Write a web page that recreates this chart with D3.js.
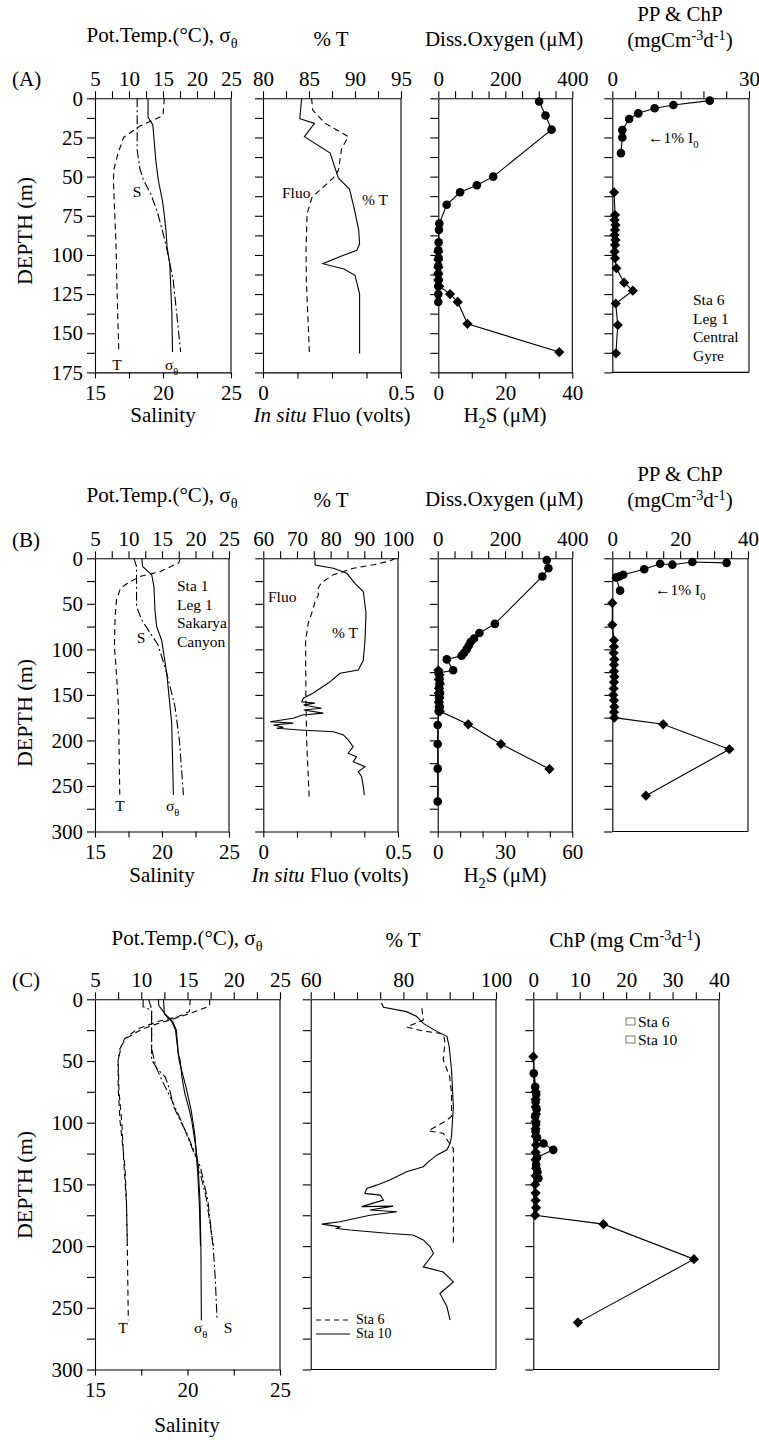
<!DOCTYPE html>
<html><head><meta charset="utf-8">
<script src="https://cdn.jsdelivr.net/npm/d3@7/dist/d3.min.js"></script>
<style>
body{margin:0;background:#fff}
svg text{font-family:'Liberation Serif','Times New Roman',serif;fill:#000}
</style>
</head><body><div id="chart"></div>
<script>
// ---------- data (depth in m) ----------
// (A) Sta 6, Leg 1, Central Gyre
var aTempDepth = [0, 11, 18, 25, 35, 45, 52, 73, 95, 116, 162];
var aTemp      = [15.2, 15.0, 11.5, 9.2, 8.4, 7.8, 7.7, 7.9, 8.1, 8.2, 8.5];
var aSigDepth  = [0, 12, 17, 27, 40, 52, 65, 73, 85, 95, 106, 137, 162];
var aSig       = [12.8, 12.8, 13.5, 13.7, 13.95, 14.3, 14.9, 15.15, 15.45, 15.6, 16.0, 16.3, 16.4];
var aSalDepth  = [0, 33, 45, 52, 61, 73, 86, 97, 116, 137, 162];
var aSal       = [18.1, 18.1, 18.3, 18.55, 19.1, 19.6, 20.0, 20.3, 20.75, 21.0, 21.3];
var aTransDepth = [0, 13, 16, 24.5, 35, 51, 58, 70, 84, 93, 97, 101, 105.6, 109, 113, 125, 163];
var aTrans      = [84.2, 84.0, 85.6, 84.5, 87.3, 88.2, 89.4, 89.9, 90.4, 90.5, 90.2, 88.4, 86.5, 88.8, 90.0, 90.5, 90.5];
var aFluoDepth = [0, 7.5, 16, 24.5, 32, 46, 51, 63, 73.5, 95, 116, 162];
var aFluo      = [0.176, 0.18, 0.225, 0.309, 0.285, 0.273, 0.254, 0.178, 0.16, 0.156, 0.157, 0.168];
var aOxyDepth  = [2, 11, 20, 50, 55.5, 60, 68, 80, 84, 92, 97, 102, 107, 112, 116, 120, 125, 130];
var aOxy       = [301, 320, 338, 164, 115, 65, 25, 3, 2, 1, 0, 1, 0, 0, 1, 0, 0, 0];
var aH2sDepth  = [98, 103, 108, 112, 116, 120, 125, 130, 144, 162];
var aH2s       = [0, 0, 0, 0, 0, 0.3, 3.5, 5.8, 8.7, 36.1];
var aPpDepth   = [1.5, 4.3, 6.4, 9.6, 13.2, 20.3, 25, 35];
var aPp        = [21.4, 13.4, 9.3, 5.7, 3.7, 2.2, 2.2, 1.9];
var aChpDepth  = [60, 74.5, 77.7, 80.9, 84.1, 87.3, 90.4, 93.6, 97.9, 102.1, 108.5, 117.7, 122.8, 131, 144.8, 162.8];
var aChp       = [0.4, 0.6, 0.5, 0.7, 0.6, 0.5, 0.7, 0.6, 0.5, 0.6, 0.9, 2.6, 4.5, 0.75, 1.2, 0.8];

// (B) Sta 1, Leg 1, Sakarya Canyon
var bTempDepth = [0, 5, 14.7, 20, 29, 35, 46, 64, 97, 126, 163, 262];
var bTemp      = [17.7, 17.5, 14.7, 11.7, 9.5, 8.7, 8.2, 8.0, 7.9, 8.2, 8.5, 8.7];
var bSigDepth  = [0, 9, 18, 31, 57, 75, 90, 126, 181, 260];
var bSig       = [12.0, 12.1, 13.46, 13.8, 13.95, 14.2, 14.95, 15.7, 16.45, 16.7];
var bSalDepth  = [0, 9, 30, 53, 68, 86, 95, 126, 163, 200, 260];
var bSal       = [17.9, 18.1, 18.1, 18.1, 18.5, 19.3, 19.7, 20.35, 20.97, 21.3, 21.6];
var bTransDepth = [0, 7.4, 11, 16.5, 27.5, 36.6, 60, 90, 112, 122.6, 126.3, 137, 148, 153.7, 157.5, 159, 161, 164.7, 166.6, 170, 172, 175.7, 179.4, 181, 183, 185.6, 186.7, 188.5, 190.4, 194, 199.5, 206.9, 214, 217.8, 223.3, 228.8, 234.3, 239.8, 250.8, 260];
var bTrans      = [75.35, 75.4, 80.8, 84.8, 87.2, 89.7, 90.5, 90.2, 89.7, 88.2, 82.8, 79.3, 74.85, 71.9, 71.4, 75.3, 72.0, 77.3, 72.0, 77.8, 71.6, 68.9, 62.0, 68.9, 63.0, 66.0, 64.0, 70.9, 80.8, 83.8, 85.2, 86.7, 85.2, 87.7, 86.7, 90.2, 88.2, 89.2, 89.7, 90.0];
var bFluoDepth = [0, 3, 7, 11, 18, 27, 35, 40, 48, 60, 71, 90, 150, 200, 262];
var bFluo      = [0.49, 0.47, 0.41, 0.334, 0.26, 0.215, 0.2, 0.205, 0.192, 0.18, 0.167, 0.157, 0.158, 0.161, 0.17];
var bOxyDepth  = [2, 11, 20, 72, 82, 88, 92, 96, 100, 104, 107, 111, 123, 126, 132, 137, 142, 148, 153, 158, 163, 168, 183, 204, 231, 267];
var bOxy       = [324, 329, 311, 170, 124, 108, 98, 92, 86, 78, 71, 27, 46, 3, 5, 6, 4, 7, 5, 4, 6, 3, 0, 0, 0, 0];
var bH2sDepth  = [123, 128, 133, 138, 143, 148, 153, 158, 163, 168, 182.3, 204, 231.4];
var bH2s       = [0.3, 0.8, 0.5, 1.0, 0.6, 0.4, 0.8, 0.5, 0.7, 1.0, 13.6, 28.2, 49.8];
var bPpDepth   = [5, 4, 7, 6, 12, 18, 20, 21, 35.5];
var bPp        = [33.7, 23.6, 17.7, 14.1, 9.4, 3.2, 2.1, 1.1, 2.3];
var bChpDepth  = [49, 73, 90, 97, 104, 111, 117, 124, 130, 136, 143, 150, 156, 163, 169, 175, 182.3, 209.7, 260.7];
var bChp       = [0, 0, 0.5, 0.5, 0.4, 0.6, 0.5, 0.5, 0.6, 0.5, 0.4, 0.3, 0.5, 0.6, 0.5, 0.6, 15.0, 34.5, 9.9];

// (C) Sta 6 vs Sta 10
var cTemp10Depth = [0, 5.4, 11.4, 16.8, 20.8, 24.9, 31.6, 37, 49, 71, 98, 136, 163, 203, 260];
var cTemp10      = [17.4, 17.4, 15.3, 13.1, 11.3, 9.9, 8.4, 7.9, 7.5, 7.5, 7.7, 8.24, 8.4, 8.5, 8.6];
var cTemp6Depth  = [0, 10, 14, 18, 24, 32, 40, 50, 75, 100, 130, 165, 200];
var cTemp6       = [15.3, 15.2, 14.0, 11.8, 9.6, 8.2, 7.7, 7.5, 7.6, 7.9, 8.1, 8.4, 8.5];
var cSig10Depth  = [0, 5, 12, 18, 25, 44, 49, 63, 76, 87, 98, 120, 136, 163, 203, 260];
var cSig10       = [11.85, 11.9, 12.6, 13.4, 13.8, 14.0, 14.2, 14.4, 14.7, 15.1, 15.45, 15.9, 16.15, 16.35, 16.45, 16.5];
var cSig6Depth   = [0, 12, 18, 25, 50, 70, 90, 110, 140, 170, 200];
var cSig6        = [12.4, 12.5, 13.3, 13.7, 14.1, 14.8, 15.4, 15.8, 16.1, 16.3, 16.4];
var cSal10Depth  = [0, 6, 9, 49, 57, 63, 74, 87, 98, 108, 136, 163, 203, 226, 260];
var cSal10       = [17.6, 17.6, 18.06, 18.06, 18.4, 18.8, 19.05, 19.25, 19.6, 19.95, 20.7, 21.1, 21.4, 21.5, 21.6];
var cSal6Depth   = [0, 8, 40, 55, 65, 80, 100, 130, 160, 200];
var cSal6        = [17.9, 18.06, 18.06, 18.3, 18.6, 19.1, 19.7, 20.5, 21.0, 21.4];
var cTrans10Depth = [3, 6.5, 10, 14, 19.5, 26, 30, 38.4, 57.3, 87, 111, 116.8, 122, 126.3, 131.7, 135.7, 139.8, 146.5, 150.6, 153.3, 157.3, 158.7, 162.7, 168, 167.6, 170.8, 172.2, 175, 180.3, 182.2, 184.4, 185.7, 187, 189.8, 191, 195, 200.6, 206, 216.8, 221, 229, 238.4, 249, 260];
var cTrans10      = [75.3, 75.7, 80.7, 82.9, 84.3, 87.2, 89.4, 89.9, 90.4, 90.8, 90.4, 90.1, 89.4, 87.2, 85.4, 84.3, 80.7, 77.1, 74.2, 72.1, 71.7, 75, 75.7, 71, 77.8, 72.8, 78.6, 72.8, 66.3, 62.4, 66.3, 65.6, 68.5, 77.1, 82.1, 84.3, 85.8, 86.5, 84.3, 88.6, 90.8, 87.9, 89.4, 90.1];
var cTrans6Depth = [7.3, 16.8, 22.5, 25.5, 28, 35, 49, 62.7, 76, 95, 99, 106.5, 108.6, 115.4, 121, 160, 199.4];
var cTrans6      = [84, 84.3, 80.7, 84, 88.6, 89, 88.6, 90, 90.4, 90.4, 89, 85.4, 88.6, 89.7, 90.8, 90.8, 90.8];
var cChp6Depth   = [60, 71, 77, 83, 89, 95, 101, 107, 112, 116.8, 122, 128, 134, 140, 145];
var cChp6        = [0.1, 0.4, 0.6, 0.5, 0.7, 0.4, 0.6, 0.5, 0.8, 2.2, 4.3, 0.8, 0.6, 0.9, 1.1];
var cChp10Depth  = [46.5, 75, 81, 87, 93, 99, 105, 111, 118, 124, 130, 137, 143, 150, 157, 163, 169, 175, 182.2, 210.6, 262];
var cChp10       = [0, 0.5, 0.5, 0.5, 0.6, 0.5, 0.5, 0.5, 0.6, 0.5, 0.5, 0.6, 0.5, 0.4, 0.5, 0.5, 0.6, 0.4, 15.1, 34.6, 9.6];

// tick label lists
var tempLabels = [5, 10, 15, 20, 25];
var salLabels = [15, 20, 25];
var oxyLabels = [0, 200, 400];
var fluoLabels = [0, 0.5];

// ---------- drawing ----------
var FS = 21;
var svg = d3.select("#chart").append("svg")
    .attr("width", 759)
    .attr("height", 1440);
svg.append("rect").attr("width", 759).attr("height", 1440).attr("fill", "#fff");

function styleAxis(g) {
    g.attr("font-family", null).attr("font-size", FS);
    g.selectAll("path,line").attr("stroke", "#000").attr("stroke-width", 1.1);
    g.selectAll("text").attr("fill", "#000");
}

function fmt(labels) {
    return function(d) { return labels.indexOf(d) >= 0 ? d : ""; };
}

// text with sub/superscripts: parts = [[text, "sub"|"sup"|null, italic]]
function rich(x, y, parts, size, anchor) {
    var t = svg.append("text").attr("x", x).attr("y", y)
        .attr("font-size", size).attr("text-anchor", anchor || "middle");
    var shift = 0;
    parts.forEach(function(p) {
        var target = p[1] === "sub" ? size * 0.3 : p[1] === "sup" ? -size * 0.32 : 0;
        var s = t.append("tspan").text(p[0]).attr("dy", target - shift);
        if (p[1]) s.attr("font-size", size * 0.68);
        if (p[2]) s.attr("font-style", "italic");
        shift = target;
    });
    return t;
}

function panel(row, x0, x1, o) {
    var y = d3.scaleLinear().domain([0, row.maxD]).range([row.top, row.bottom]);
    var xt = d3.scaleLinear().domain(o.top.domain).range([x0, x1]);

    svg.append("g")
        .attr("transform", "translate(" + x0 + ",0)")
        .call(d3.axisLeft(y)
            .tickValues(d3.range(0, row.maxD + 0.01, row.tickStep))
            .tickSize(8).tickPadding(4).tickSizeOuter(0)
            .tickFormat(function(d) { return o.depthLabels && d % row.labelStep === 0 ? d : ""; }))
        .call(styleAxis);

    svg.append("g")
        .attr("transform", "translate(0," + row.top + ")")
        .call(d3.axisTop(xt)
            .tickValues(d3.range(o.top.domain[0], o.top.domain[1] + 1e-6, o.top.step))
            .tickSize(7).tickPadding(5).tickSizeOuter(0)
            .tickFormat(fmt(o.top.labels)))
        .call(styleAxis);

    var xb = null;
    if (o.bottom) {
        xb = d3.scaleLinear().domain(o.bottom.domain).range([x0, x1]);
        svg.append("g")
            .attr("transform", "translate(0," + row.bottom + ")")
            .call(d3.axisBottom(xb)
                .tickValues(d3.range(o.bottom.domain[0], o.bottom.domain[1] + 1e-6, o.bottom.step))
                .tickSize(6).tickPadding(7).tickSizeOuter(0)
                .tickFormat(fmt(o.bottom.labels)))
            .call(styleAxis);
    } else {
        svg.append("line").attr("x1", x0).attr("x2", x1).attr("y1", row.bottom).attr("y2", row.bottom)
            .attr("stroke", "#000").attr("stroke-width", 1.1);
    }
    // right border
    svg.append("line").attr("x1", x1).attr("x2", x1).attr("y1", row.top).attr("y2", row.bottom)
        .attr("stroke", "#000").attr("stroke-width", 1.1);

    return {y: y, xt: xt, xb: xb};
}

function line(x, y, depths, vals, dash) {
    var pts = depths.map(function(d, i) { return [d, vals[i]]; });
    svg.append("path").datum(pts)
        .attr("fill", "none").attr("stroke", "#000").attr("stroke-width", 1.1)
        .attr("stroke-dasharray", dash || null)
        .attr("d", d3.line().x(function(p) { return x(p[1]); }).y(function(p) { return y(p[0]); }));
}

var diamond = d3.symbol().type(d3.symbolSquare).size(52);
function marks(x, y, depths, vals, shape) {
    var pts = depths.map(function(d, i) { return [d, vals[i]]; });
    if (shape === "circle") {
        svg.append("g").selectAll("circle").data(pts).enter().append("circle")
            .attr("cx", function(p) { return x(p[1]); })
            .attr("cy", function(p) { return y(p[0]); })
            .attr("r", 4.3).attr("fill", "#000");
    } else {
        svg.append("g").selectAll("path").data(pts).enter().append("path")
            .attr("d", diamond)
            .attr("transform", function(p) { return "translate(" + x(p[1]) + "," + y(p[0]) + ") rotate(45)"; })
            .attr("fill", "#000");
    }
}

var DASH_T = "6,4", DASH_S = "9,3,2,3";

var rowA = {top: 98.3, bottom: 372.4, maxD: 175, tickStep: 12.5, labelStep: 25};
var rowB = {top: 558.3, bottom: 831.5, maxD: 300, tickStep: 25, labelStep: 50};
var rowC = {top: 999.3, bottom: 1369.5, maxD: 300, tickStep: 25, labelStep: 50};

// ===== (A) =====
var a1 = panel(rowA, 95, 231, {depthLabels: true,
    top: {domain: [5, 25], step: 2.5, labels: tempLabels},
    bottom: {domain: [15, 25], step: 2.5, labels: salLabels}});
line(a1.xt, a1.y, aTempDepth, aTemp, DASH_T);
line(a1.xt, a1.y, aSigDepth, aSig);
line(a1.xb, a1.y, aSalDepth, aSal, DASH_S);

var a2 = panel(rowA, 263, 401, {
    top: {domain: [80, 95], step: 2.5, labels: [80, 85, 90, 95]},
    bottom: {domain: [0, 0.5], step: 0.125, labels: fluoLabels}});
line(a2.xt, a2.y, aTransDepth, aTrans);
line(a2.xb, a2.y, aFluoDepth, aFluo, DASH_T);

var a3 = panel(rowA, 438.3, 572.3, {
    top: {domain: [0, 400], step: 50, labels: oxyLabels},
    bottom: {domain: [0, 40], step: 10, labels: [0, 20, 40]}});
line(a3.xt, a3.y, aOxyDepth, aOxy);
marks(a3.xt, a3.y, aOxyDepth, aOxy, "circle");
line(a3.xb, a3.y, aH2sDepth, aH2s);
marks(a3.xb, a3.y, aH2sDepth, aH2s, "diamond");

var a4 = panel(rowA, 612.3, 749, {
    top: {domain: [0, 30], step: 5, labels: [0, 30]}});
line(a4.xt, a4.y, aPpDepth, aPp);
marks(a4.xt, a4.y, aPpDepth, aPp, "circle");
line(a4.xt, a4.y, aChpDepth, aChp);
marks(a4.xt, a4.y, aChpDepth, aChp, "diamond");

// ===== (B) =====
var b1 = panel(rowB, 95, 229, {depthLabels: true,
    top: {domain: [5, 25], step: 2.5, labels: tempLabels},
    bottom: {domain: [15, 25], step: 2.5, labels: salLabels}});
line(b1.xt, b1.y, bTempDepth, bTemp, DASH_T);
line(b1.xt, b1.y, bSigDepth, bSig);
line(b1.xb, b1.y, bSalDepth, bSal, DASH_S);

var b2 = panel(rowB, 263.3, 398, {
    top: {domain: [60, 100], step: 5, labels: [60, 70, 80, 90, 100]},
    bottom: {domain: [0, 0.5], step: 0.125, labels: fluoLabels}});
line(b2.xt, b2.y, bTransDepth, bTrans);
line(b2.xb, b2.y, bFluoDepth, bFluo, DASH_T);

var b3 = panel(rowB, 437.7, 572.3, {
    top: {domain: [0, 400], step: 50, labels: oxyLabels},
    bottom: {domain: [0, 60], step: 10, labels: [0, 30, 60]}});
line(b3.xt, b3.y, bOxyDepth, bOxy);
marks(b3.xt, b3.y, bOxyDepth, bOxy, "circle");
line(b3.xb, b3.y, bH2sDepth, bH2s);
marks(b3.xb, b3.y, bH2sDepth, bH2s, "diamond");

var b4 = panel(rowB, 612.3, 748, {
    top: {domain: [0, 40], step: 5, labels: [0, 20, 40]}});
line(b4.xt, b4.y, bPpDepth, bPp);
marks(b4.xt, b4.y, bPpDepth, bPp, "circle");
line(b4.xt, b4.y, bChpDepth, bChp);
marks(b4.xt, b4.y, bChpDepth, bChp, "diamond");

// ===== (C) =====
var c1 = panel(rowC, 95, 280, {depthLabels: true,
    top: {domain: [5, 25], step: 2.5, labels: tempLabels},
    bottom: {domain: [15, 25], step: 2.5, labels: salLabels}});
line(c1.xt, c1.y, cTemp6Depth, cTemp6, DASH_T);
line(c1.xt, c1.y, cTemp10Depth, cTemp10, DASH_T);
line(c1.xt, c1.y, cSig6Depth, cSig6);
line(c1.xt, c1.y, cSig10Depth, cSig10);
line(c1.xb, c1.y, cSal6Depth, cSal6, DASH_S);
line(c1.xb, c1.y, cSal10Depth, cSal10, DASH_S);

var c2 = panel(rowC, 310.7, 496, {
    top: {domain: [60, 100], step: 5, labels: [60, 80, 100]}});
line(c2.xt, c2.y, cTrans6Depth, cTrans6, DASH_T);
line(c2.xt, c2.y, cTrans10Depth, cTrans10);

var c3 = panel(rowC, 533.3, 719, {
    top: {domain: [0, 40], step: 5, labels: [0, 10, 20, 30, 40]}});
line(c3.xt, c3.y, cChp6Depth, cChp6);
marks(c3.xt, c3.y, cChp6Depth, cChp6, "circle");
line(c3.xt, c3.y, cChp10Depth, cChp10);
marks(c3.xt, c3.y, cChp10Depth, cChp10, "diamond");

// ---------- titles and labels ----------
function titleRow(yTick, letter) {
    rich(12, yTick, [[letter]], FS, "start");
}
// row A
titleRow(86, "(A)");
rich(162, 42, [["Pot.Temp.(°C), σ"], ["θ", "sub"]], FS);
rich(331, 46, [["% T"]], FS);
rich(504, 46, [["Diss.Oxygen (μM)"]], FS);
rich(680, 21, [["PP & ChP"]], FS);
rich(680, 47, [["(mgCm"], ["-3", "sup"], ["d"], ["-1", "sup"], [")"]], FS);
rich(163, 422, [["Salinity"]], FS);
rich(332, 422, [["In situ", null, true], [" Fluo (volts)"]], FS);
rich(505, 422, [["H"], ["2", "sub"], ["S (μM)"]], FS);

// row B
titleRow(547, "(B)");
rich(162, 502, [["Pot.Temp.(°C), σ"], ["θ", "sub"]], FS);
rich(331, 507, [["% T"]], FS);
rich(504, 506, [["Diss.Oxygen (μM)"]], FS);
rich(680, 481, [["PP & ChP"]], FS);
rich(680, 507, [["(mgCm"], ["-3", "sup"], ["d"], ["-1", "sup"], [")"]], FS);
rich(162, 882, [["Salinity"]], FS);
rich(330, 882, [["In situ", null, true], [" Fluo (volts)"]], FS);
rich(505, 882, [["H"], ["2", "sub"], ["S (μM)"]], FS);

// row C
titleRow(987, "(C)");
rich(187, 945, [["Pot.Temp.(°C), σ"], ["θ", "sub"]], FS);
rich(403, 947, [["% T"]], FS);
rich(625, 947, [["ChP (mg Cm"], ["-3", "sup"], ["d"], ["-1", "sup"], [")"]], FS);
rich(187, 1432, [["Salinity"]], FS);

// depth axis titles
[231, 713, 1185].forEach(function(cy) {
    svg.append("text")
        .attr("transform", "translate(32," + cy + ") rotate(-90)")
        .attr("text-anchor", "middle").attr("font-size", 22)
        .text("DEPTH (m)");
});

// in-panel annotations
var AS = 15.5;
rich(137, 197, [["S"]], AS);
rich(117, 370, [["T"]], AS);
rich(165, 370, [["σ"], ["θ", "sub"]], AS, "start");
rich(282, 198, [["Fluo"]], AS, "start");
rich(362, 205, [["% T"]], AS, "start");
rich(648, 143, [["←1% I"], ["0", "sub"]], AS, "start");
["Sta 6", "Leg 1", "Central", "Gyre"].forEach(function(s, i) {
    rich(693, 305 + i * 18.5, [[s]], AS, "start");
});

rich(141, 643, [["S"]], AS);
rich(120, 811, [["T"]], AS);
rich(166, 811, [["σ"], ["θ", "sub"]], AS, "start");
rich(268, 602, [["Fluo"]], AS, "start");
rich(332, 638, [["% T"]], AS, "start");
rich(655, 595, [["←1% I"], ["0", "sub"]], AS, "start");
["Sta 1", "Leg 1", "Sakarya", "Canyon"].forEach(function(s, i) {
    rich(177, 591 + i * 18.5, [[s]], AS, "start");
});

rich(123, 1333, [["T"]], AS);
rich(194, 1333, [["σ"], ["θ", "sub"]], AS, "start");
rich(228, 1333, [["S"]], AS);

// legend in % T panel (C)
svg.append("line").attr("x1", 316).attr("x2", 350).attr("y1", 1320).attr("y2", 1320)
    .attr("stroke", "#000").attr("stroke-dasharray", "5,4");
svg.append("line").attr("x1", 316).attr("x2", 350).attr("y1", 1334).attr("y2", 1334)
    .attr("stroke", "#000");
rich(356, 1324, [["Sta 6"]], 14, "start");
rich(356, 1338, [["Sta 10"]], 14, "start");

// legend in ChP panel (C)
[1022, 1040].forEach(function(cy) {
    svg.append("rect").attr("x", 626).attr("y", cy - 4).attr("width", 9).attr("height", 7)
        .attr("fill", "none").attr("stroke", "#555").attr("stroke-width", 0.8);
});
rich(638, 1027, [["Sta 6"]], AS, "start");
rich(638, 1045, [["Sta 10"]], AS, "start");
</script>
</body></html>
